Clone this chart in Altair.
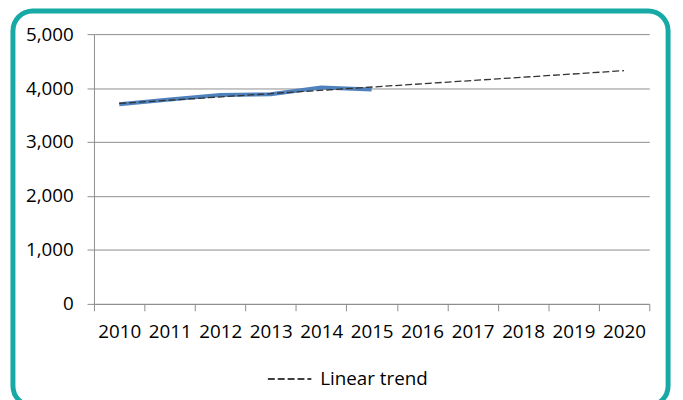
import altair as alt
import pandas as pd

years = [str(y) for y in range(2010, 2021)]
actual_years = ["2010", "2011", "2012", "2013", "2014", "2015"]
actual_values = [3700, 3790, 3870, 3885, 4010, 3975]
trend_years = ["2010", "2020"]
trend_values = [3715, 4323]
trend_label = "Linear trend"
y_ticks = [0, 1000, 2000, 3000, 4000, 5000]

FONT = "Open Sans"
GRID = "#8c8c8c"

actual_df = pd.DataFrame({"year": actual_years, "value": actual_values})
trend_df = pd.DataFrame({"year": trend_years, "value": trend_values,
                         "series": [trend_label] * len(trend_years)})

xscale = alt.Scale(type="band", domain=years, paddingInner=0, paddingOuter=0)
yscale = alt.Scale(domain=[0, 5000])

x_axis = alt.Axis(title=None, tickBand="extent", grid=False, labelAngle=0,
                  labelFont=FONT, labelFontSize=19, labelColor="#000",
                  tickSize=7, tickColor=GRID, domainColor=GRID, labelPadding=12)
y_axis = alt.Axis(title=None, values=y_ticks, labelExpr="format(datum.value, ',')",
                  grid=True, gridColor=GRID,
                  labelFont=FONT, labelFontSize=19, labelColor="#000",
                  tickSize=7, tickColor=GRID, domainColor=GRID, labelPadding=14)

actual = alt.Chart(actual_df).mark_line(color="#4F81BD", strokeWidth=4).encode(
    x=alt.X("year:O", scale=xscale, axis=x_axis, bandPosition=0.5),
    y=alt.Y("value:Q", scale=yscale, axis=y_axis),
)

trend = alt.Chart(trend_df).mark_line(color="#333333", strokeWidth=1.3).encode(
    x=alt.X("year:O", scale=xscale, axis=x_axis, bandPosition=0.5),
    y=alt.Y("value:Q", scale=yscale, axis=y_axis),
    strokeDash=alt.StrokeDash(
        "series:N",
        scale=alt.Scale(domain=[trend_label], range=[[7, 3]]),
        legend=alt.Legend(orient="none", legendX=175, legendY=326, title=None,
                          labelFont=FONT, labelFontSize=19, labelColor="#000",
                          symbolType="stroke", symbolSize=1936,
                          symbolStrokeWidth=1.3, symbolStrokeColor="#000",
                          labelOffset=8),
    ),
)

frame = alt.Chart(pd.DataFrame({"a": [0]})).mark_rect(
    fillOpacity=0, stroke="#17A9A6", strokeWidth=5, cornerRadius=20
).encode(x=alt.value(-82), x2=alt.value(581), y=alt.value(-23.5), y2=alt.value(376))

chart = alt.layer(frame, actual, trend).properties(
    width=562, height=273,
    autosize=alt.AutoSizeParams(type="none"),
    padding={"left": 87, "top": 24, "right": 26, "bottom": 110},
).configure_view(stroke=None)

chart.save("out.html", embed_options={"renderer": "svg", "actions": False})
